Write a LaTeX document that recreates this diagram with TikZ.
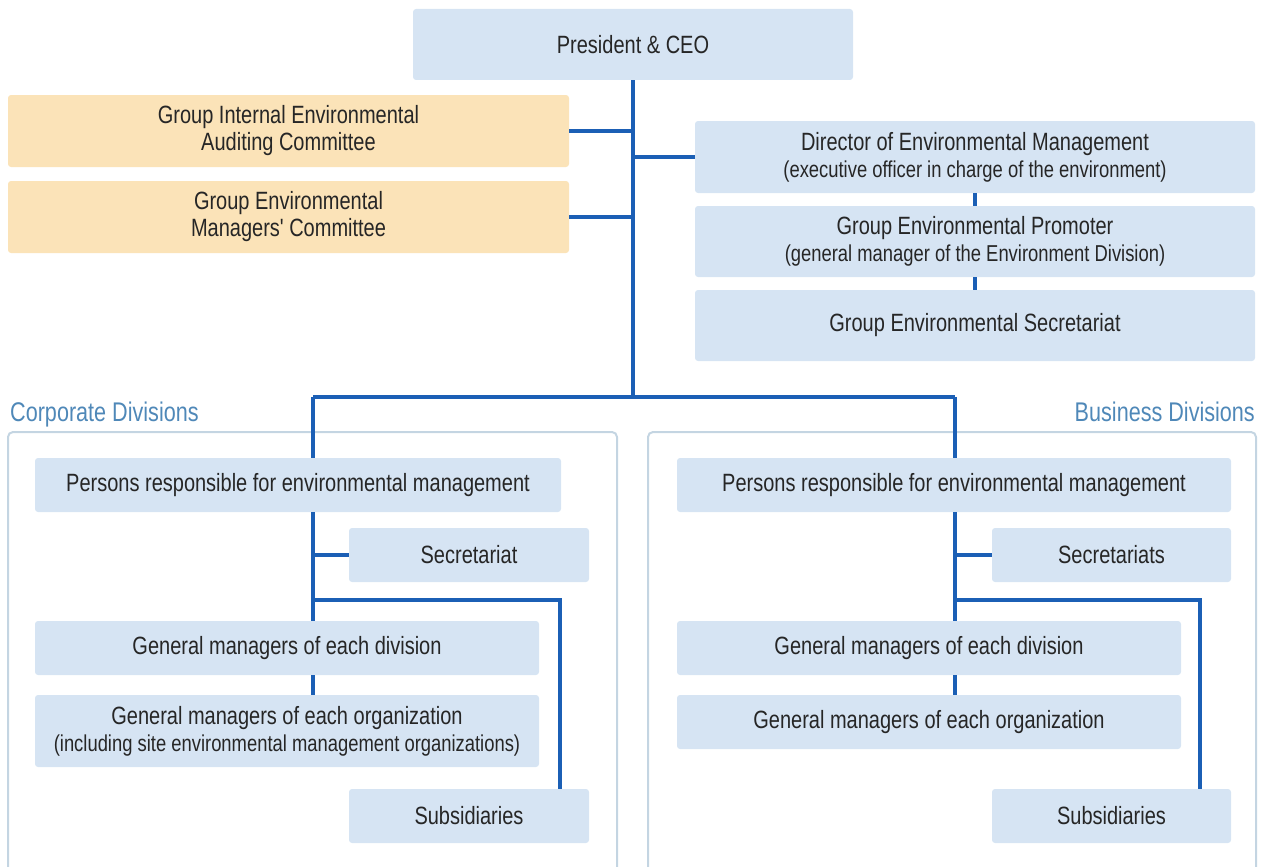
\documentclass[tikz,border=0pt]{standalone}
\usepackage{fontspec}
\setmainfont{Liberation Sans}[FakeStretch=0.8, Ligatures=TeXOff]
\definecolor{boxblue}{HTML}{D6E4F3}
\definecolor{boxorange}{HTML}{FBE3B8}
\definecolor{linkblue}{HTML}{1B5FB5}
\definecolor{labelblue}{HTML}{4F88B8}
\definecolor{framegray}{HTML}{C4D5E2}
\definecolor{txt}{HTML}{262626}
\newcommand{\subline}[1]{{\fontsize{23}{27}\selectfont #1}}
\tikzset{
  orgbox/.style={fill=boxblue, rounded corners=3pt, inner sep=0pt, align=center,
    text=txt, font=\fontsize{25}{27}\selectfont},
  combox/.style={orgbox, fill=boxorange},
  link/.style={draw=linkblue, line width=3.2pt},
  divframe/.style={draw=framegray, line width=2pt, rounded corners=5pt},
  divlabel/.style={text=labelblue, font=\fontsize{27}{30}\selectfont, inner sep=0pt}
}
\begin{document}
\begin{tikzpicture}[x=1pt,y=-1pt]
\useasboundingbox (0,0) rectangle (1261,867);
\clip (0,0) rectangle (1261,867);
% frames
\draw[divframe] (8,880) -- (8,432) -- (617,432) -- (617,880);
\draw[divframe] (648,880) -- (648,432) -- (1256,432) -- (1256,880);
\node[divlabel, anchor=base west] (lcorp) at (10,421) {Corporate Divisions};
\node[divlabel, anchor=base east] (lbus) at (1255,421) {Business Divisions};
% top boxes
\node[orgbox, minimum width=440, minimum height=71] (ceo) at (633,44.5) {President \& CEO};
\node[combox, minimum width=561, minimum height=72] (aud) at (288.5,131) {Group Internal Environmental\\Auditing Committee};
\node[combox, minimum width=561, minimum height=72] (mgr) at (288.5,217) {Group Environmental\\Managers' Committee};
\node[orgbox, minimum width=560, minimum height=72] (dir) at (975,157) {Director of Environmental Management\\\subline{(executive officer in charge of the environment)}};
\node[orgbox, minimum width=560, minimum height=71] (prom) at (975,241.5) {Group Environmental Promoter\\\subline{(general manager of the Environment Division)}};
\node[orgbox, minimum width=560, minimum height=71] (gsec) at (975,325.5) {Group Environmental Secretariat};
% left division
\node[orgbox, minimum width=526, minimum height=54] (lpers) at (298,485) {Persons responsible for environmental management};
\node[orgbox, minimum width=240, minimum height=54] (lsec) at (469,555) {Secretariat};
\node[orgbox, minimum width=504, minimum height=54] (lgmd) at (287,648) {General managers of each division};
\node[orgbox, minimum width=504, minimum height=72] (lgmo) at (287,731) {General managers of each organization\\\subline{(including site environmental management organizations)}};
\node[orgbox, minimum width=240, minimum height=54] (lsub) at (469,816) {Subsidiaries};
% right division
\node[orgbox, minimum width=554, minimum height=54] (rpers) at (954,485) {Persons responsible for environmental management};
\node[orgbox, minimum width=239, minimum height=54] (rsec) at (1111.5,555) {Secretariats};
\node[orgbox, minimum width=504, minimum height=54] (rgmd) at (929,648) {General managers of each division};
\node[orgbox, minimum width=504, minimum height=54] (rgmo) at (929,722) {General managers of each organization};
\node[orgbox, minimum width=239, minimum height=54] (rsub) at (1111.5,816) {Subsidiaries};
% junctions
\coordinate (j) at (633,397);
\coordinate (jl) at (313,397);
\coordinate (jr) at (955,397);
\coordinate (lk) at (560,600);
\coordinate (rk) at (1200,600);
% top connectors
\draw[link] (ceo.south) -- (j);
\draw[link] (aud.east) -- (aud.east -| ceo.south);
\draw[link] (mgr.east) -- (mgr.east -| ceo.south);
\draw[link] (dir.west) -- (dir.west -| ceo.south);
\draw[link] (dir.south) -- (prom.north);
\draw[link] (prom.south) -- (gsec.north);
\draw[link] (jl) -- (jr);
\draw[link] (jl) -- (jl |- lpers.north);
\draw[link] (jr) -- (jr |- rpers.north);
% left internal
\draw[link] (jl |- lpers.south) -- (jl |- lgmd.north);
\draw[link] (jl |- lsec.west) -- (lsec.west);
\draw[link] (jl |- lk) -- (lk) -- (lk |- lsub.north);
\draw[link] (jl |- lgmd.south) -- (jl |- lgmo.north);
% right internal
\draw[link] (jr |- rpers.south) -- (jr |- rgmd.north);
\draw[link] (jr |- rsec.west) -- (rsec.west);
\draw[link] (jr |- rk) -- (rk) -- (rk |- rsub.north);
\draw[link] (jr |- rgmd.south) -- (jr |- rgmo.north);
\end{tikzpicture}
\end{document}
